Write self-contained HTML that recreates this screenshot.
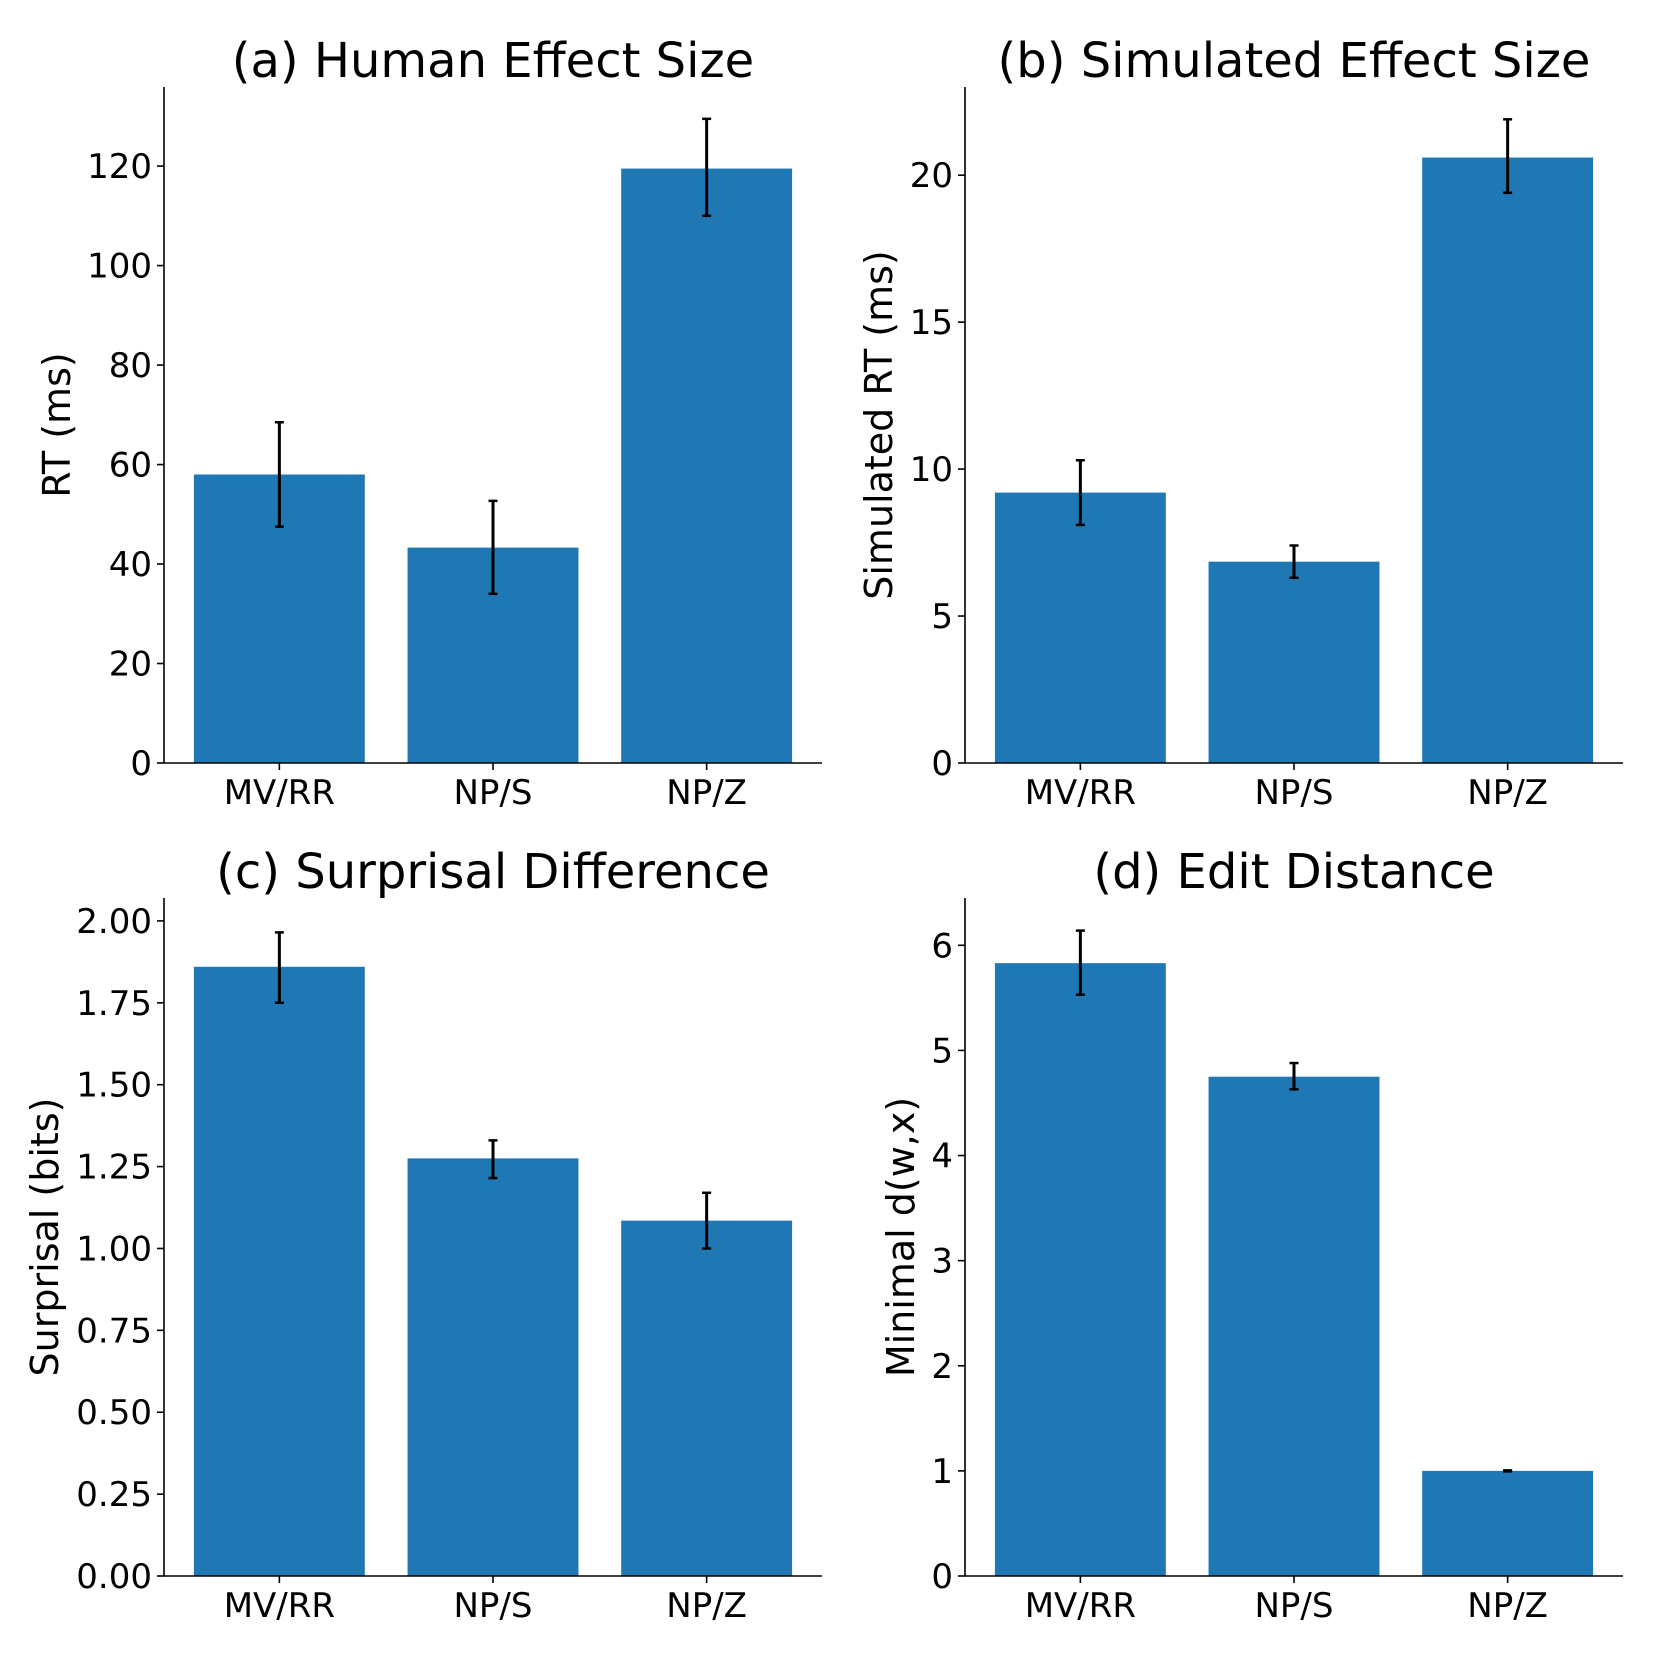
<!DOCTYPE html>
<html><head><meta charset="utf-8"><style>
html,body{margin:0;padding:0;background:#fff;}
svg{display:block;font-family:"DejaVu Sans","Liberation Sans",sans-serif;}
</style></head><body>
<svg id="fig" width="1661" height="1661" viewBox="0 0 1661 1661" xmlns="http://www.w3.org/2000/svg"></svg>
<script>
const categories = ["MV/RR","NP/S","NP/Z"];
const humanValues = [58, 43.3, 119.5];
const humanLow = [47.5, 34, 110];
const humanHigh = [68.5, 52.7, 129.5];
const humanTicks = [0,20,40,60,80,100,120];
const simValues = [9.2, 6.85, 20.6];
const simLow = [8.1, 6.3, 19.4];
const simHigh = [10.3, 7.4, 21.9];
const simTicks = [0,5,10,15,20];
const surpValues = [1.86, 1.275, 1.085];
const surpLow = [1.75, 1.215, 1.0];
const surpHigh = [1.965, 1.33, 1.17];
const surpTicks = ["0.00","0.25","0.50","0.75","1.00","1.25","1.50","1.75","2.00"];
const editValues = [5.83, 4.75, 1.0];
const editLow = [5.53, 4.63, 0.995];
const editHigh = [6.14, 4.88, 1.005];
const editTicks = [0,1,2,3,4,5,6];

const NS="http://www.w3.org/2000/svg";
const svg=document.getElementById('fig');
function mk(tag,attrs,parent){const e=document.createElementNS(NS,tag);for(const k in attrs)e.setAttribute(k,attrs[k]);(parent||svg).appendChild(e);return e;}

function panel(o){
  const g=mk('g',{});
  
  
  const L=o.left,R=o.left+658,T=o.top,B=o.bottom;
  const xs=v=>L+(v+0.54)*(R-L)/3.08;
  const ys=v=>B-(v-0)*(B-T)/o.ymax;
  categories.forEach((c,i)=>{
    const x0=xs(i-0.4),x1=xs(i+0.4);
    const r=mk('rect',{x:x0,y:ys(o.vals[i]),width:x1-x0,height:B-ys(o.vals[i]),fill:'#1f77b4'},g);
    
    
    const cx=xs(i);
    const eg=mk('g',{stroke:'#000','stroke-width':3},g);
    
    
    mk('line',{x1:cx,x2:cx,y1:ys(o.lo[i]),y2:ys(o.hi[i])},eg);
    mk('line',{x1:cx-4.5,x2:cx+4.5,y1:ys(o.lo[i]),y2:ys(o.lo[i]),'stroke-width':2.5},eg);
    mk('line',{x1:cx-4.5,x2:cx+4.5,y1:ys(o.hi[i]),y2:ys(o.hi[i]),'stroke-width':2.5},eg);
    mk('line',{x1:cx,x2:cx,y1:B,y2:B+7,stroke:'#000','stroke-width':1.6},g);
    const t=mk('text',{x:cx,y:B+41,'font-size':34,'text-anchor':'middle',fill:'#000'},g);
    t.textContent=c;
    
    
  });
  o.ticks.forEach(tk=>{
    const y=ys(parseFloat(tk));
    mk('line',{x1:L-7,x2:L,y1:y,y2:y,stroke:'#000','stroke-width':1.6},g);
    const t=mk('text',{x:L-12,y:y+12,'font-size':34,'text-anchor':'end',fill:'#000'},g);
    t.textContent=tk;
    
    
  });
  const ax=mk('path',{d:`M${L},${T}V${B}H${R}`,fill:'none',stroke:'#000','stroke-width':1.6},g);
  
  
  const ti=mk('text',{x:(L+R)/2,y:T-10,'font-size':48,'text-anchor':'middle',fill:'#000'},g);
  ti.textContent=o.title;
  
  
  const yl=mk('text',{x:0,y:0,'font-size':38,'text-anchor':'middle',fill:'#000',transform:`translate(${o.ylx},${(T+B)/2}) rotate(-90)`},g);
  yl.textContent=o.ylabel;
  
  
}
panel({name:'panel-a',left:164,top:87,bottom:763,ymax:135.9,vals:humanValues,lo:humanLow,hi:humanHigh,ticks:humanTicks,title:'(a) Human Effect Size',ylabel:'RT (ms)',ylx:70});
panel({name:'panel-b',left:965,top:87,bottom:763,ymax:23.0,vals:simValues,lo:simLow,hi:simHigh,ticks:simTicks,title:'(b) Simulated Effect Size',ylabel:'Simulated RT (ms)',ylx:892});
panel({name:'panel-c',left:164,top:898,bottom:1576,ymax:2.07,vals:surpValues,lo:surpLow,hi:surpHigh,ticks:surpTicks,title:'(c) Surprisal Difference',ylabel:'Surprisal (bits)',ylx:58});
panel({name:'panel-d',left:965,top:898,bottom:1576,ymax:6.45,vals:editValues,lo:editLow,hi:editHigh,ticks:editTicks,title:'(d) Edit Distance',ylabel:'Minimal d(w,x)',ylx:914});
</script>
</body></html>
